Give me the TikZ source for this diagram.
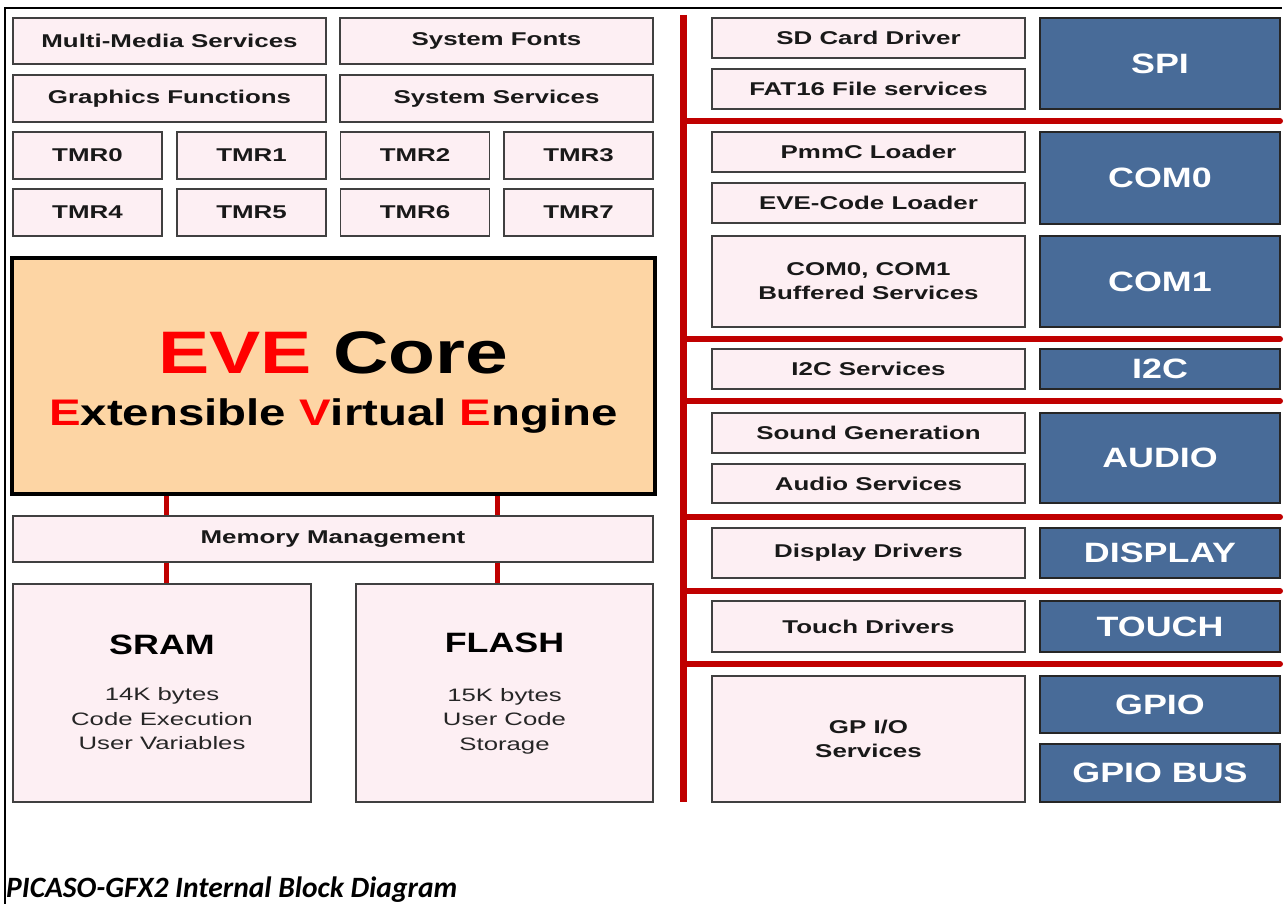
\documentclass[tikz,border=0pt]{standalone}
\usepackage{fontspec}
\setmainfont{Liberation Sans}
\newfontfamily\svcfont[FakeStretch=1.4]{Liberation Sans}
\newfontfamily\bodyfont[FakeStretch=1.43]{Liberation Sans}
\newfontfamily\bigfont[FakeStretch=1.28]{Liberation Sans}
\newfontfamily\capfont{Carlito}
\usepackage{xcolor}
\definecolor{busred}{RGB}{192,0,0}
\definecolor{boxpink}{RGB}{253,239,243}
\definecolor{corepeach}{RGB}{253,213,164}
\definecolor{periblue}{RGB}{72,107,152}
\definecolor{evered}{RGB}{255,0,0}
\tikzset{
  svc/.style={draw=black!75, line width=1.5pt, fill=boxpink, align=center, inner sep=0pt,
    text=black!90, font=\svcfont\bfseries\fontsize{18.5}{24}\selectfont},
  peri/.style={draw=black!85, line width=1.5pt, fill=periblue, text=white, inner sep=0pt,
    font=\bigfont\bfseries\fontsize{28}{32}\selectfont},
  memtitle/.style={inner sep=0pt, font=\bigfont\bfseries\fontsize{28}{32}\selectfont},
  membody/.style={inner sep=0pt, align=center, text=black!85, font=\bodyfont\fontsize{18}{24.5}\selectfont},
  bus/.style={busred, line width=6pt},
}
\begin{document}
\begin{tikzpicture}[x=1pt, y=-1pt]
\useasboundingbox (0,0) rectangle (1285,904);
%%%%% Frame %%%%%
\draw[line width=1.2pt] (5,904) -- (5,8) -- (1282,8);
%%%%% Services over the core %%%%%
\node[svc, minimum width=313pt, minimum height=46pt] (mms) at (169.5,41) {Multi-Media Services};
\node[svc, minimum width=313pt, minimum height=46pt] (sysfonts) at (496.5,41) {System Fonts};
\node[svc, minimum width=313pt, minimum height=47pt] (gfx) at (169.5,98.5) {Graphics Functions};
\node[svc, minimum width=313pt, minimum height=47pt] (syssvc) at (496.5,98.5) {System Services};
\foreach \i/\j/\x in {0/4/87.5, 1/5/251.5, 2/6/415, 3/7/578.5}{
\node[svc, minimum width=149pt, minimum height=47pt] (tmr\i) at (\x,155.5) {TMR\i};
\node[svc, minimum width=149pt, minimum height=47pt] (tmr\j) at (\x,212.5) {TMR\j};
}
%%%%% EVE core %%%%%
\node[draw=black, line width=4pt, fill=corepeach, minimum width=643pt, minimum height=236pt] (eve) at (333.5,376) {};
\node[anchor=base, inner sep=0pt, font=\bigfont\bfseries\fontsize{60}{64}\selectfont] (evetitle) at (333.5,373)
  {\textcolor{evered}{EVE} Core};
\node[anchor=base, inner sep=0pt, font=\bigfont\bfseries\fontsize{37}{40}\selectfont] (evesub) at (333.5,425)
  {\textcolor{evered}{E}xtensible \textcolor{evered}{V}irtual \textcolor{evered}{E}ngine};
%%%%% Memory %%%%%
\node[svc, minimum width=640pt, minimum height=46pt] (mem) at (333,539) {Memory Management};
\node[svc, minimum width=298pt, minimum height=218pt] (sram) at (162,693) {};
\node[svc, minimum width=297pt, minimum height=218pt] (flash) at (504.5,693) {};
\node[memtitle] (sramtitle) at (162,645) {SRAM};
\node[membody] (srambody) at (162,719) {14K bytes\\Code Execution\\User Variables};
\node[memtitle] (flashtitle) at (504.5,643) {FLASH};
\node[membody] (flashbody) at (504.5,721) {15K bytes\\User Code\\Storage};
\coordinate (tapL) at (166,0);
\coordinate (tapR) at (497,0);
\draw[busred, line width=5pt] (eve.south -| tapL) -- (mem.north -| tapL);
\draw[busred, line width=5pt] (eve.south -| tapR) -- (mem.north -| tapR);
\draw[busred, line width=5pt] (mem.south -| tapL) -- (sram.north -| tapL);
\draw[busred, line width=5pt] (mem.south -| tapR) -- (flash.north -| tapR);
%%%%% Bus %%%%%
\coordinate (bustop) at (683,15);
\coordinate (busbot) at (683,802);
\draw[busred, line width=7pt] (bustop) -- (busbot);
\foreach \y in {121,339,401,517,591,664}{
\coordinate (tap\y) at (bustop |- 0,\y);
\draw[bus, line cap=round] (tap\y) -- ++(597,0);
}
%%%%% Drivers %%%%%
\node[svc, minimum width=313pt, minimum height=40pt] (sdcard) at (868.5,38) {SD Card Driver};
\node[svc, minimum width=313pt, minimum height=40pt] (fat16) at (868.5,89) {FAT16 File services};
\node[svc, minimum width=313pt, minimum height=40pt] (pmmc) at (868.5,152) {PmmC Loader};
\node[svc, minimum width=313pt, minimum height=40pt] (eveload) at (868.5,203) {EVE-Code Loader};
\node[svc, minimum width=313pt, minimum height=91pt] (buffered) at (868.5,281.5) {COM0, COM1\\Buffered Services};
\node[svc, minimum width=313pt, minimum height=40pt] (i2csvc) at (868.5,369) {I2C Services};
\node[svc, minimum width=313pt, minimum height=40pt] (sound) at (868.5,433) {Sound Generation};
\node[svc, minimum width=313pt, minimum height=39pt] (audiosvc) at (868.5,483.5) {Audio Services};
\node[svc, minimum width=313pt, minimum height=50pt] (dispdrv) at (868.5,553) {Display Drivers};
\node[svc, minimum width=313pt, minimum height=51pt] (touchdrv) at (868.5,626.5) {Touch Drivers};
\node[svc, minimum width=313pt, minimum height=126pt] (gpiosvc) at (868.5,739) {GP I/O\\Services};
%%%%% Peripherals %%%%%
\node[peri, minimum width=240pt, minimum height=91pt] (spi) at (1160,63.5) {SPI};
\node[peri, minimum width=240pt, minimum height=92pt] (com0) at (1160,178) {COM0};
\node[peri, minimum width=240pt, minimum height=91pt] (com1) at (1160,281.5) {COM1};
\node[peri, minimum width=240pt, minimum height=40pt] (i2c) at (1160,369) {I2C};
\node[peri, minimum width=240pt, minimum height=90pt] (audio) at (1160,458) {AUDIO};
\node[peri, minimum width=240pt, minimum height=50pt] (display) at (1160,553) {DISPLAY};
\node[peri, minimum width=240pt, minimum height=51pt] (touch) at (1160,626.5) {TOUCH};
\node[peri, minimum width=240pt, minimum height=57pt] (gpio) at (1160,704.5) {GPIO};
\node[peri, minimum width=240pt, minimum height=58pt] (gpiobus) at (1160,773) {GPIO BUS};
%%%%% Caption %%%%%
\node[anchor=base west, inner sep=0pt, font=\capfont\bfseries\itshape\fontsize{29.5}{32}\selectfont] (caption) at (6,897)
  {PICASO-GFX2 Internal Block Diagram};
\end{tikzpicture}
\end{document}
